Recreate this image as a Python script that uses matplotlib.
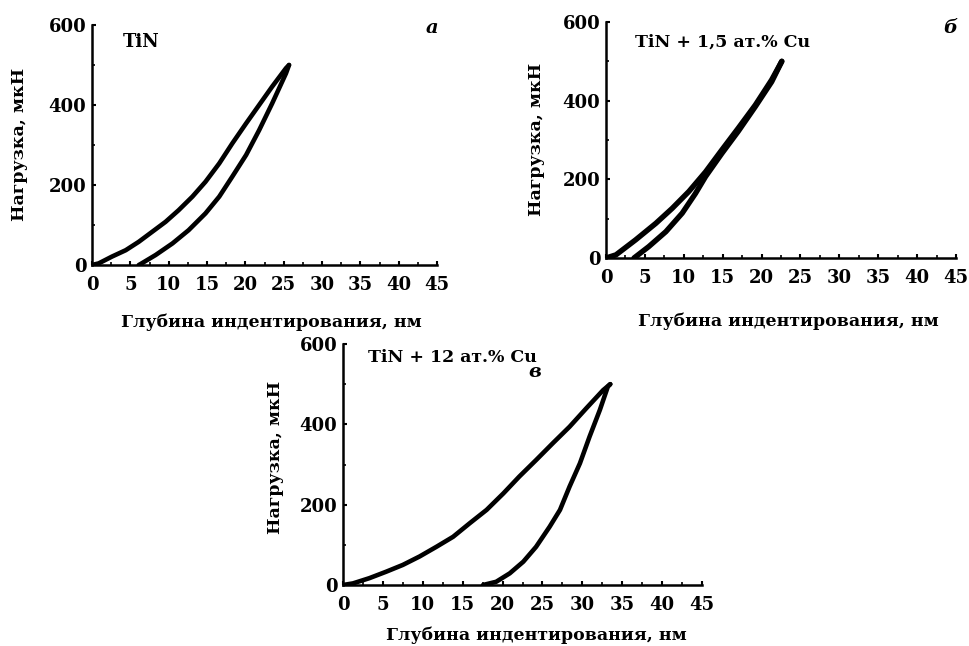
import numpy as np
import matplotlib
matplotlib.use("Agg")
import matplotlib.pyplot as plt
from matplotlib.ticker import MultipleLocator

# --- data (depth, nm ; load, uN) ---
tin_load_h = [0, 0.87, 2.6, 4.4, 6.1, 7.85, 9.6, 11.3, 13.1, 14.8, 16.6, 18.3,
              20.1, 21.8, 23.5, 25.3, 25.7]
tin_load_p = [0, 4, 21, 37, 58, 83, 108, 137, 171, 208, 254, 304,
              354, 400, 446, 492, 500]
tin_unload_h = [25.7, 25.3, 23.5, 21.8, 20.1, 18.3, 16.6, 14.8, 12.6, 10.5, 8.3, 6.3, 6.1]
tin_unload_p = [500, 479, 404, 337, 275, 221, 171, 129, 87, 54, 25, 2, 0]

cu15_load_h = [0, 1.28, 3.8, 6.4, 8.5, 10.65, 12.8, 14.9, 17.0, 19.2, 21.3, 22.6]
cu15_load_p = [0, 8, 46, 88, 126, 169, 219, 275, 330, 389, 453, 500]
cu15_unload_h = [22.6, 21.3, 19.2, 17.0, 14.9, 12.8, 11.5, 9.8, 7.7, 5.5, 3.6]
cu15_unload_p = [500, 448, 385, 322, 266, 207, 164, 114, 67, 29, 0]

cu12_load_h = [0, 1.25, 3.3, 5.4, 7.5, 9.6, 11.7, 13.8, 15.9, 18.0, 20.1, 22.1,
               24.2, 26.3, 28.4, 30.5, 32.6, 33.5]
cu12_load_p = [0, 4, 17, 33, 50, 71, 95, 120, 154, 187, 228, 270,
               311, 353, 394, 440, 485, 500]
cu12_unload_h = [33.5, 33.2, 32.2, 30.9, 29.7, 28.4, 27.2, 25.9, 24.2, 22.6, 20.9, 19.2, 17.55]
cu12_unload_p = [500, 494, 436, 369, 303, 245, 187, 145, 95, 58, 29, 8, 0]

titles = ["TiN", "TiN + 1,5 ат.% Cu", "TiN + 12 ат.% Cu"]
letters = ["а", "б", "в"]
x_label = "Глубина индентирования, нм"
y_label = "Нагрузка, мкН"

plt.rcParams['font.family'] = ['DejaVu Serif']
plt.rcParams['font.weight'] = 'bold'

W, H = 969, 646
fig = plt.figure(figsize=(W / 100, H / 100), dpi=100)


def px_axes(left, right, bottom, top):
    return fig.add_axes([left / W, 1 - bottom / H, (right - left) / W, (bottom - top) / H])


# pixel boxes of the three panels (left, right, bottom, top)
boxes = [(92, 437, 265, 25), (606, 956, 258, 22), (343, 702, 585, 344)]
curves = [
    (tin_load_h, tin_load_p, tin_unload_h, tin_unload_p),
    (cu15_load_h, cu15_load_p, cu15_unload_h, cu15_unload_p),
    (cu12_load_h, cu12_load_p, cu12_unload_h, cu12_unload_p),
]
title_pos = [(0.142, 0.929), (0.332, 0.915), (0.304, 0.946)]
letter_pos = [(0.986, 0.988), (0.983, 0.975), (0.535, 0.884)]
xlab_pos = [(0.519, -0.2375), (0.52, -0.27), (0.54, -0.21)]
ylab_pos = [(-0.209, 0.504), (-0.199, 0.504), (-0.189, 0.531)]
lws = [3.3, 3.9, 3.3]
title_fs = [13, 12.5, 12.5]

for i, box in enumerate(boxes):
    ax = px_axes(*box)
    lh, lp, uh, up = curves[i]
    ax.plot(lh, lp, color='black', lw=lws[i], solid_capstyle='round', solid_joinstyle='round')
    ax.plot(uh, up, color='black', lw=lws[i], solid_capstyle='round', solid_joinstyle='round')

    ax.set_xlim(0, 45)
    ax.set_ylim(0, 600)
    ax.xaxis.set_major_locator(MultipleLocator(5))
    ax.xaxis.set_minor_locator(MultipleLocator(2.5))
    ax.yaxis.set_major_locator(MultipleLocator(200))
    ax.yaxis.set_minor_locator(MultipleLocator(100))
    for s in ['top', 'right']:
        ax.spines[s].set_visible(False)
    for s in ['left', 'bottom']:
        ax.spines[s].set_linewidth(1.8)
    ax.tick_params(which='major', direction='in', length=3, width=1.5, labelsize=13)
    ax.tick_params(which='minor', direction='in', length=2, width=1.2)
    ax.tick_params(axis='x', pad=8)
    ax.tick_params(axis='y', pad=4)
    for lab in ax.get_xticklabels() + ax.get_yticklabels():
        lab.set_fontweight('bold')

    ax.set_xlabel(x_label, fontsize=12.5, fontweight='bold', va='center')
    ax.xaxis.set_label_coords(*xlab_pos[i])
    ax.set_ylabel(y_label, fontsize=12.5, fontweight='bold', va='center')
    ax.yaxis.set_label_coords(*ylab_pos[i])

    ax.text(*title_pos[i], titles[i], transform=ax.transAxes, fontsize=title_fs[i],
            fontweight='bold', ha='center', va='center')
    ax.text(*letter_pos[i], letters[i], transform=ax.transAxes, fontsize=14,
            fontweight='bold', style='italic', ha='center', va='center')

fig.savefig("out.png", dpi=100)
